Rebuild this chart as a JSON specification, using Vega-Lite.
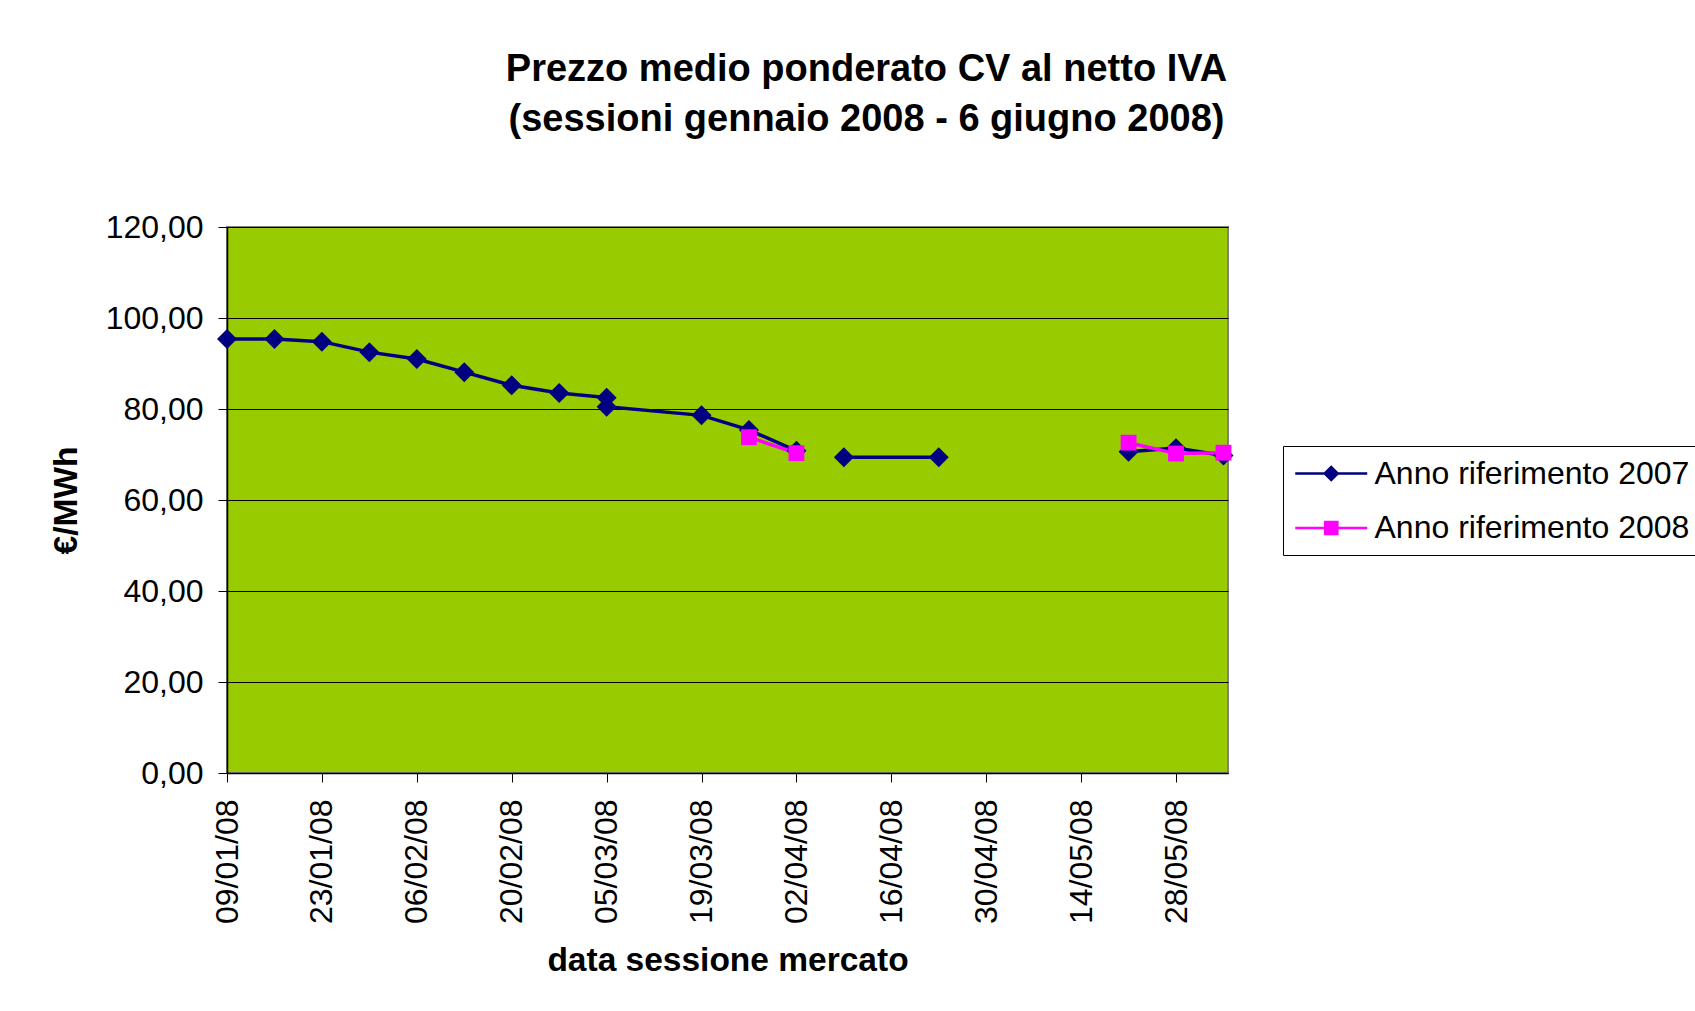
{
  "$schema": "https://vega.github.io/schema/vega-lite/v6.json",
  "width": 1001,
  "height": 546,
  "autosize": {"type": "none"},
  "padding": {"left": 227, "top": 227, "right": 467, "bottom": 238},
  "background": "white",
  "config": {
    "font": "Liberation Sans",
    "view": {"fill": "#99CC00", "stroke": "#808080", "strokeWidth": 2},
    "axis": {
      "labelFont": "Liberation Sans",
      "labelFontSize": 32,
      "labelColor": "#000000",
      "titleFont": "Liberation Sans",
      "titleFontSize": 33.5,
      "titleFontWeight": "bold",
      "titleColor": "#000000",
      "domainColor": "#000000",
      "domainWidth": 1.5,
      "tickColor": "#000000",
      "tickSize": 9,
      "labelOverlap": false,
      "labelFlush": false,
      "labelBound": false
    }
  },
  "title": {
    "text": ["Prezzo medio ponderato CV al netto IVA", "(sessioni gennaio 2008 - 6 giugno 2008)"],
    "font": "Liberation Sans",
    "fontSize": 38,
    "fontWeight": "bold",
    "color": "#000000",
    "anchor": "middle",
    "dx": 139,
    "lineHeight": 50,
    "offset": 72
  },
  "data": {
    "values": [
      {"n": 1, "data": "2008-01-09", "serie": "Anno riferimento 2007", "valore": 95.4},
      {"n": 2, "data": "2008-01-16", "serie": "Anno riferimento 2007", "valore": 95.4},
      {"n": 3, "data": "2008-01-23", "serie": "Anno riferimento 2007", "valore": 94.8},
      {"n": 4, "data": "2008-01-30", "serie": "Anno riferimento 2007", "valore": 92.5},
      {"n": 5, "data": "2008-02-06", "serie": "Anno riferimento 2007", "valore": 91.0},
      {"n": 6, "data": "2008-02-13", "serie": "Anno riferimento 2007", "valore": 88.1},
      {"n": 7, "data": "2008-02-20", "serie": "Anno riferimento 2007", "valore": 85.2},
      {"n": 8, "data": "2008-02-27", "serie": "Anno riferimento 2007", "valore": 83.5},
      {"n": 9, "data": "2008-03-05", "serie": "Anno riferimento 2007", "valore": 82.5},
      {"n": 10, "data": "2008-03-05", "serie": "Anno riferimento 2007", "valore": 80.5},
      {"n": 11, "data": "2008-03-19", "serie": "Anno riferimento 2007", "valore": 78.6},
      {"n": 12, "data": "2008-03-26", "serie": "Anno riferimento 2007", "valore": 75.4},
      {"n": 13, "data": "2008-04-02", "serie": "Anno riferimento 2007", "valore": 70.8},
      {"n": 14, "data": "2008-04-06", "serie": "Anno riferimento 2007", "valore": null},
      {"n": 15, "data": "2008-04-09", "serie": "Anno riferimento 2007", "valore": 69.4},
      {"n": 16, "data": "2008-04-23", "serie": "Anno riferimento 2007", "valore": 69.4},
      {"n": 17, "data": "2008-05-07", "serie": "Anno riferimento 2007", "valore": null},
      {"n": 18, "data": "2008-05-21", "serie": "Anno riferimento 2007", "valore": 70.6},
      {"n": 19, "data": "2008-05-28", "serie": "Anno riferimento 2007", "valore": 71.4},
      {"n": 20, "data": "2008-06-04", "serie": "Anno riferimento 2007", "valore": 69.8},
      {"n": 21, "data": "2008-03-26", "serie": "Anno riferimento 2008", "valore": 73.8},
      {"n": 22, "data": "2008-04-02", "serie": "Anno riferimento 2008", "valore": 70.3},
      {"n": 23, "data": "2008-04-16", "serie": "Anno riferimento 2008", "valore": null},
      {"n": 24, "data": "2008-05-21", "serie": "Anno riferimento 2008", "valore": 72.6},
      {"n": 25, "data": "2008-05-28", "serie": "Anno riferimento 2008", "valore": 70.2},
      {"n": 26, "data": "2008-06-04", "serie": "Anno riferimento 2008", "valore": 70.4}
    ]
  },
  "encoding": {
    "x": {
      "field": "data",
      "type": "temporal",
      "scale": {
        "type": "utc",
        "domain": [
          {"year": 2008, "month": 1, "date": 9, "utc": true},
          {"year": 2008, "month": 6, "date": 4, "hours": 16, "utc": true}
        ]
      },
      "axis": {
        "title": "data sessione mercato",
        "format": "%d/%m/%y",
        "labelAngle": 270,
        "labelPadding": 17,
        "titlePadding": 21,
        "grid": false,
        "values": [
          {"year": 2008, "month": 1, "date": 9, "utc": true},
          {"year": 2008, "month": 1, "date": 23, "utc": true},
          {"year": 2008, "month": 2, "date": 6, "utc": true},
          {"year": 2008, "month": 2, "date": 20, "utc": true},
          {"year": 2008, "month": 3, "date": 5, "utc": true},
          {"year": 2008, "month": 3, "date": 19, "utc": true},
          {"year": 2008, "month": 4, "date": 2, "utc": true},
          {"year": 2008, "month": 4, "date": 16, "utc": true},
          {"year": 2008, "month": 4, "date": 30, "utc": true},
          {"year": 2008, "month": 5, "date": 14, "utc": true},
          {"year": 2008, "month": 5, "date": 28, "utc": true}
        ]
      }
    },
    "y": {
      "field": "valore",
      "type": "quantitative",
      "scale": {"domain": [0, 120], "nice": false, "zero": true},
      "axis": {
        "title": "€/MWh",
        "values": [0, 20, 40, 60, 80, 100, 120],
        "labelExpr": "replace(format(datum.value, '.2f'), '.', ',')",
        "grid": true,
        "gridColor": "#000000",
        "gridWidth": 1,
        "gridOpacity": 1,
        "labelPadding": 15,
        "titlePadding": 22
      }
    }
  },
  "layer": [
    {
      "mark": {"type": "line", "strokeWidth": 3.5},
      "encoding": {
        "order": {"field": "n", "type": "quantitative"},
        "color": {
          "field": "serie",
          "type": "nominal",
          "scale": {"domain": ["Anno riferimento 2007", "Anno riferimento 2008"], "range": ["#000080", "#FF00FF"]},
          "legend": null
        }
      }
    },
    {
      "transform": [{"filter": "datum.serie === 'Anno riferimento 2007'"}],
      "mark": {"type": "point", "shape": "diamond", "size": 400, "filled": true, "opacity": 1, "strokeWidth": 0},
      "encoding": {
        "color": {
          "field": "serie",
          "type": "nominal",
          "scale": {"domain": ["Anno riferimento 2007", "Anno riferimento 2008"], "range": ["#000080", "#FF00FF"]},
          "legend": null
        }
      }
    },
    {
      "transform": [{"filter": "datum.serie === 'Anno riferimento 2008'"}],
      "mark": {"type": "point", "shape": "square", "size": 250, "filled": true, "opacity": 1, "strokeWidth": 0},
      "encoding": {
        "color": {
          "field": "serie",
          "type": "nominal",
          "scale": {"domain": ["Anno riferimento 2007", "Anno riferimento 2008"], "range": ["#000080", "#FF00FF"]},
          "legend": null
        }
      }
    },
    {
      "transform": [{"filter": "datum.n < 0"}],
      "mark": {"type": "point", "size": 900, "filled": true, "opacity": 1, "strokeWidth": 2.5},
      "encoding": {
        "shape": {
          "field": "serie",
          "type": "nominal",
          "scale": {
            "domain": ["Anno riferimento 2008", "Anno riferimento 2007"],
            "range": [
              "M-1.017,0H3.783M0.976,-0.407H1.79V0.407H0.976Z",
              "M-1.017,0H3.783M0.95,0L1.383,-0.433L1.816,0L1.383,0.433Z"
            ]
          },
          "legend": {
            "title": null,
            "values": ["Anno riferimento 2007", "Anno riferimento 2008"],
            "orient": "none",
            "legendX": 1056,
            "legendY": 219,
            "padding": 11,
            "strokeColor": "#000000",
            "fillColor": "#ffffff",
            "labelFont": "Liberation Sans",
            "labelFontSize": 32,
            "labelColor": "#000000",
            "labelLimit": 0,
            "labelOffset": 47.5,
            "symbolSize": 900,
            "symbolStrokeWidth": 2.5,
            "symbolOpacity": 1,
            "rowPadding": 21.5
          }
        },
        "fill": {
          "field": "serie",
          "type": "nominal",
          "scale": {"domain": ["Anno riferimento 2008", "Anno riferimento 2007"], "range": ["#FF00FF", "#000080"]}
        },
        "stroke": {
          "field": "serie",
          "type": "nominal",
          "scale": {"domain": ["Anno riferimento 2008", "Anno riferimento 2007"], "range": ["#FF00FF", "#000080"]}
        }
      }
    }
  ]
}
